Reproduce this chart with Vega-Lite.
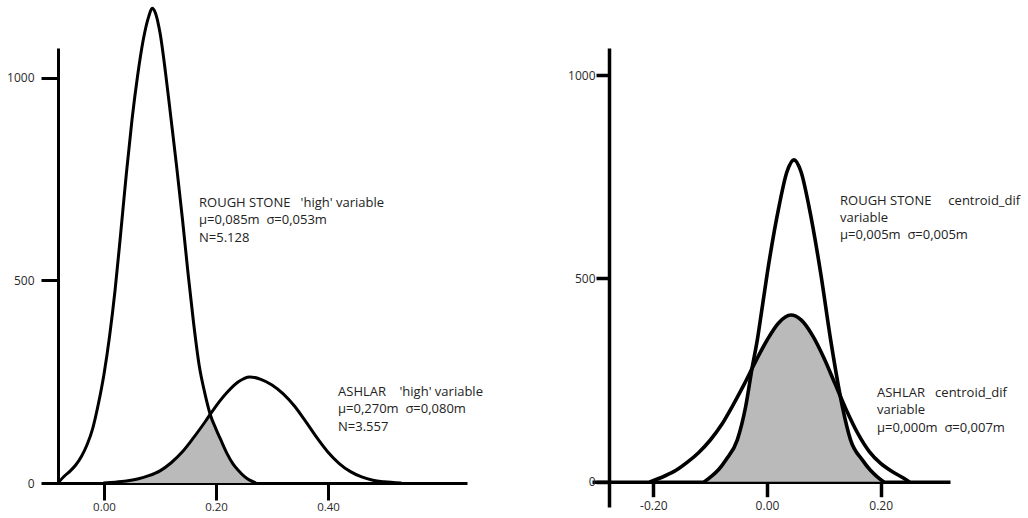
{
  "$schema": "https://vega.github.io/schema/vega-lite/v6.json",
  "padding": {"left": 6, "top": 6, "right": 0, "bottom": 3},
  "autosize": {"type": "pad"},
  "background": "white",
  "spacing": 125,
  "bounds": "flush",
  "config": {
    "view": {"stroke": null},
    "font": "Open Sans",
    "axis": {"grid": false, "domainColor": "black", "tickColor": "black", "labelColor": "#2a2a2a", "labelFont": "Open Sans", "labelFontSize": 12, "title": null, "zindex": 1, "labelFlush": false, "labelOverlap": false}
  },
  "datasets": {
    "high": [
      {"s": "rough", "x": -0.082, "y": 0}, {"s": "rough", "x": -0.07, "y": 18}, {"s": "rough", "x": -0.06, "y": 30}, {"s": "rough", "x": -0.05, "y": 45}, {"s": "rough", "x": -0.04, "y": 66}, {"s": "rough", "x": -0.03, "y": 95}, {"s": "rough", "x": -0.02, "y": 135}, {"s": "rough", "x": -0.01, "y": 195}, {"s": "rough", "x": 0.0, "y": 268}, {"s": "rough", "x": 0.01, "y": 362}, {"s": "rough", "x": 0.02, "y": 478}, {"s": "rough", "x": 0.03, "y": 618}, {"s": "rough", "x": 0.04, "y": 764}, {"s": "rough", "x": 0.05, "y": 896}, {"s": "rough", "x": 0.06, "y": 1005}, {"s": "rough", "x": 0.07, "y": 1093}, {"s": "rough", "x": 0.08, "y": 1152}, {"s": "rough", "x": 0.086, "y": 1172}, {"s": "rough", "x": 0.092, "y": 1160}, {"s": "rough", "x": 0.1, "y": 1112}, {"s": "rough", "x": 0.11, "y": 1012}, {"s": "rough", "x": 0.12, "y": 896}, {"s": "rough", "x": 0.13, "y": 778}, {"s": "rough", "x": 0.14, "y": 653}, {"s": "rough", "x": 0.15, "y": 519}, {"s": "rough", "x": 0.16, "y": 395}, {"s": "rough", "x": 0.17, "y": 290}, {"s": "rough", "x": 0.18, "y": 222}, {"s": "rough", "x": 0.19, "y": 168}, {"s": "rough", "x": 0.2, "y": 133}, {"s": "rough", "x": 0.21, "y": 102}, {"s": "rough", "x": 0.22, "y": 72}, {"s": "rough", "x": 0.23, "y": 48}, {"s": "rough", "x": 0.24, "y": 31}, {"s": "rough", "x": 0.25, "y": 17}, {"s": "rough", "x": 0.26, "y": 7}, {"s": "rough", "x": 0.27, "y": 1},
      {"s": "ashlar", "x": 0.0, "y": 0}, {"s": "ashlar", "x": 0.02, "y": 2}, {"s": "ashlar", "x": 0.04, "y": 5}, {"s": "ashlar", "x": 0.06, "y": 10}, {"s": "ashlar", "x": 0.08, "y": 18}, {"s": "ashlar", "x": 0.1, "y": 30}, {"s": "ashlar", "x": 0.12, "y": 50}, {"s": "ashlar", "x": 0.14, "y": 77}, {"s": "ashlar", "x": 0.16, "y": 112}, {"s": "ashlar", "x": 0.18, "y": 150}, {"s": "ashlar", "x": 0.2, "y": 190}, {"s": "ashlar", "x": 0.22, "y": 224}, {"s": "ashlar", "x": 0.24, "y": 250}, {"s": "ashlar", "x": 0.26, "y": 262}, {"s": "ashlar", "x": 0.28, "y": 256}, {"s": "ashlar", "x": 0.3, "y": 242}, {"s": "ashlar", "x": 0.32, "y": 220}, {"s": "ashlar", "x": 0.34, "y": 190}, {"s": "ashlar", "x": 0.36, "y": 152}, {"s": "ashlar", "x": 0.38, "y": 112}, {"s": "ashlar", "x": 0.4, "y": 76}, {"s": "ashlar", "x": 0.42, "y": 48}, {"s": "ashlar", "x": 0.44, "y": 28}, {"s": "ashlar", "x": 0.46, "y": 15}, {"s": "ashlar", "x": 0.48, "y": 7}, {"s": "ashlar", "x": 0.5, "y": 3}, {"s": "ashlar", "x": 0.53, "y": 0},
      {"s": "overlap", "x": 0.0, "y": 0}, {"s": "overlap", "x": 0.02, "y": 2}, {"s": "overlap", "x": 0.04, "y": 5}, {"s": "overlap", "x": 0.06, "y": 10}, {"s": "overlap", "x": 0.08, "y": 18}, {"s": "overlap", "x": 0.1, "y": 30}, {"s": "overlap", "x": 0.12, "y": 50}, {"s": "overlap", "x": 0.14, "y": 77}, {"s": "overlap", "x": 0.16, "y": 112}, {"s": "overlap", "x": 0.18, "y": 150}, {"s": "overlap", "x": 0.19, "y": 168}, {"s": "overlap", "x": 0.2, "y": 133}, {"s": "overlap", "x": 0.21, "y": 102}, {"s": "overlap", "x": 0.22, "y": 72}, {"s": "overlap", "x": 0.23, "y": 48}, {"s": "overlap", "x": 0.24, "y": 31}, {"s": "overlap", "x": 0.25, "y": 17}, {"s": "overlap", "x": 0.26, "y": 7}, {"s": "overlap", "x": 0.27, "y": 1}
    ],
    "centroid": [
      {"s": "rough", "x": -0.11, "y": 0}, {"s": "rough", "x": -0.099, "y": 12}, {"s": "rough", "x": -0.085, "y": 30}, {"s": "rough", "x": -0.0727, "y": 53}, {"s": "rough", "x": -0.0522, "y": 103}, {"s": "rough", "x": -0.0375, "y": 185}, {"s": "rough", "x": -0.0258, "y": 283}, {"s": "rough", "x": -0.017, "y": 349}, {"s": "rough", "x": -0.008, "y": 433}, {"s": "rough", "x": 0.0005, "y": 513}, {"s": "rough", "x": 0.0211, "y": 677}, {"s": "rough", "x": 0.035, "y": 762}, {"s": "rough", "x": 0.0475, "y": 792}, {"s": "rough", "x": 0.06, "y": 762}, {"s": "rough", "x": 0.0739, "y": 677}, {"s": "rough", "x": 0.0945, "y": 513}, {"s": "rough", "x": 0.112, "y": 349}, {"s": "rough", "x": 0.1326, "y": 185}, {"s": "rough", "x": 0.147, "y": 103}, {"s": "rough", "x": 0.168, "y": 53}, {"s": "rough", "x": 0.182, "y": 28}, {"s": "rough", "x": 0.194, "y": 12}, {"s": "rough", "x": 0.205, "y": 0},
      {"s": "ashlar", "x": -0.205, "y": 0}, {"s": "ashlar", "x": -0.18, "y": 14}, {"s": "ashlar", "x": -0.16, "y": 28}, {"s": "ashlar", "x": -0.14, "y": 48}, {"s": "ashlar", "x": -0.12, "y": 72}, {"s": "ashlar", "x": -0.1, "y": 102}, {"s": "ashlar", "x": -0.08, "y": 140}, {"s": "ashlar", "x": -0.06, "y": 188}, {"s": "ashlar", "x": -0.04, "y": 240}, {"s": "ashlar", "x": -0.02, "y": 296}, {"s": "ashlar", "x": 0.0, "y": 348}, {"s": "ashlar", "x": 0.02, "y": 390}, {"s": "ashlar", "x": 0.042, "y": 410}, {"s": "ashlar", "x": 0.06, "y": 398}, {"s": "ashlar", "x": 0.08, "y": 360}, {"s": "ashlar", "x": 0.1, "y": 305}, {"s": "ashlar", "x": 0.12, "y": 240}, {"s": "ashlar", "x": 0.14, "y": 175}, {"s": "ashlar", "x": 0.16, "y": 118}, {"s": "ashlar", "x": 0.18, "y": 74}, {"s": "ashlar", "x": 0.2, "y": 45}, {"s": "ashlar", "x": 0.22, "y": 25}, {"s": "ashlar", "x": 0.24, "y": 9}, {"s": "ashlar", "x": 0.25, "y": 0},
      {"s": "overlap", "x": -0.11, "y": 0}, {"s": "overlap", "x": -0.099, "y": 12}, {"s": "overlap", "x": -0.085, "y": 30}, {"s": "overlap", "x": -0.0727, "y": 53}, {"s": "overlap", "x": -0.0522, "y": 103}, {"s": "overlap", "x": -0.0375, "y": 185}, {"s": "overlap", "x": -0.0258, "y": 281}, {"s": "overlap", "x": -0.02, "y": 296}, {"s": "overlap", "x": 0.0, "y": 348}, {"s": "overlap", "x": 0.02, "y": 390}, {"s": "overlap", "x": 0.042, "y": 410}, {"s": "overlap", "x": 0.06, "y": 398}, {"s": "overlap", "x": 0.08, "y": 360}, {"s": "overlap", "x": 0.1, "y": 305}, {"s": "overlap", "x": 0.12, "y": 240}, {"s": "overlap", "x": 0.13, "y": 206}, {"s": "overlap", "x": 0.147, "y": 103}, {"s": "overlap", "x": 0.168, "y": 53}, {"s": "overlap", "x": 0.182, "y": 28}, {"s": "overlap", "x": 0.194, "y": 12}, {"s": "overlap", "x": 0.205, "y": 0}
    ]
  },
  "hconcat": [
    {
      "width": 423,
      "height": 435,
      "layer": [
        {
          "data": {"name": "high"},
          "transform": [{"filter": "datum.s === 'overlap'"}],
          "mark": {"type": "area", "interpolate": "monotone", "color": "#bababa"},
          "encoding": {
            "x": {"field": "x", "type": "quantitative", "scale": {"domain": [-0.107, 0.648], "nice": false, "zero": false},
              "axis": {"values": [0, 0.2, 0.4], "format": ".2f", "tickSize": 17, "tickWidth": 3, "domainWidth": 3, "labelPadding": 1, "labelFontSize": 11.5}},
            "y": {"field": "y", "type": "quantitative", "scale": {"domain": [0, 1074], "nice": false},
              "axis": {"values": [0, 500, 1000], "format": "d", "tickSize": 17, "tickWidth": 3, "domainWidth": 3, "labelPadding": 7, "offset": -14}}
          }
        },
        {
          "data": {"name": "high"},
          "transform": [{"filter": "datum.s !== 'overlap'"}],
          "mark": {"type": "line", "interpolate": "monotone", "color": "black", "strokeWidth": 3, "strokeCap": "round", "strokeJoin": "round"},
          "encoding": {
            "x": {"field": "x", "type": "quantitative"},
            "y": {"field": "y", "type": "quantitative"},
            "detail": {"field": "s"}
          }
        },
        {
          "data": {"values": [
            {"x": 0.1697, "y": 681, "t": "ROUGH STONE\u00a0\u00a0\u00a0'high' variable\nμ=0,085m\u00a0\u00a0σ=0,053m\nN=5.128"},
            {"x": 0.4178, "y": 215, "t": "ASHLAR\u00a0\u00a0\u00a0\u00a0'high' variable\nμ=0,270m\u00a0\u00a0σ=0,080m\nN=3.557"}
          ]},
          "mark": {"type": "text", "align": "left", "baseline": "alphabetic", "lineBreak": "\n", "fontSize": 13, "lineHeight": 17.3, "color": "#222222", "font": "Open Sans"},
          "encoding": {
            "x": {"field": "x", "type": "quantitative"},
            "y": {"field": "y", "type": "quantitative"},
            "text": {"field": "t"}
          }
        }
      ]
    },
    {
      "width": 358,
      "height": 459,
      "layer": [
        {
          "data": {"name": "centroid"},
          "transform": [{"filter": "datum.s === 'overlap'"}],
          "mark": {"type": "area", "interpolate": "monotone", "color": "#bababa"},
          "encoding": {
            "x": {"field": "x", "type": "quantitative", "scale": {"domain": [-0.3079, 0.322], "nice": false, "zero": false},
              "axis": {"values": [-0.2, 0, 0.2], "labelExpr": "datum.value < 0 ? '-' + format(-datum.value, '.2f') : format(datum.value, '.2f')", "tickSize": 15, "tickWidth": 3.5, "domainWidth": 3.5, "labelPadding": 4, "offset": -25.3}},
            "y": {"field": "y", "type": "quantitative", "scale": {"domain": [-62.3, 1067.2], "nice": false, "zero": false},
              "axis": {"values": [0, 500, 1000], "format": "d", "tickSize": 13, "tickWidth": 3.5, "domainWidth": 3.5, "labelPadding": 1, "offset": -17}}
          }
        },
        {
          "data": {"name": "centroid"},
          "transform": [{"filter": "datum.s !== 'overlap'"}],
          "mark": {"type": "line", "interpolate": "monotone", "color": "black", "strokeWidth": 3.6, "strokeCap": "round", "strokeJoin": "round"},
          "encoding": {
            "x": {"field": "x", "type": "quantitative"},
            "y": {"field": "y", "type": "quantitative"},
            "detail": {"field": "s"}
          }
        },
        {
          "data": {"values": [
            {"x": 0.1285, "y": 682, "t": "ROUGH STONE\u00a0\u00a0\u00a0\u00a0\u00a0centroid_dif\nvariable\nμ=0,005m\u00a0\u00a0σ=0,005m"},
            {"x": 0.1936, "y": 208, "t": "ASHLAR\u00a0\u00a0\u00a0centroid_dif\nvariable\nμ=0,000m\u00a0\u00a0σ=0,007m"}
          ]},
          "mark": {"type": "text", "align": "left", "baseline": "alphabetic", "lineBreak": "\n", "fontSize": 13, "lineHeight": 17.3, "color": "#222222", "font": "Open Sans"},
          "encoding": {
            "x": {"field": "x", "type": "quantitative"},
            "y": {"field": "y", "type": "quantitative"},
            "text": {"field": "t"}
          }
        }
      ]
    }
  ]
}
